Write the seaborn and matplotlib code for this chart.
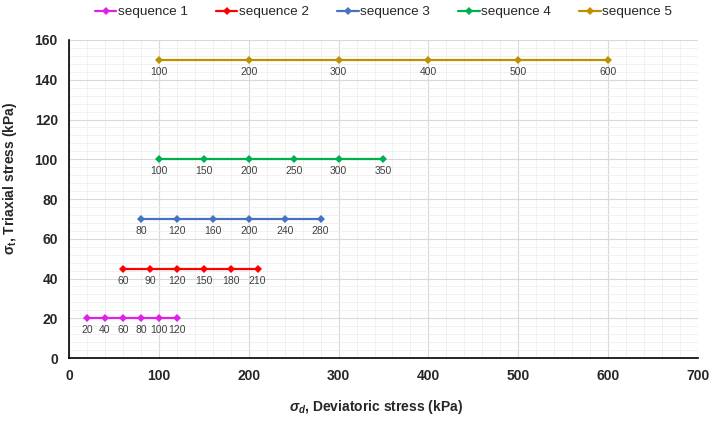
import numpy as np
import pandas as pd
import matplotlib
matplotlib.use("Agg")
import matplotlib.pyplot as plt
from matplotlib.ticker import MultipleLocator
import seaborn as sns

# Данные: девиаторное напряжение по последовательностям
seq_names = ["sequence 1", "sequence 2", "sequence 3", "sequence 4", "sequence 5"]
sigma_t = [20, 45, 70, 100, 150]
seq1_d = [20, 40, 60, 80, 100, 120]
seq2_d = [60, 90, 120, 150, 180, 210]
seq3_d = [80, 120, 160, 200, 240, 280]
seq4_d = [100, 150, 200, 250, 300, 350]
seq5_d = [100, 200, 300, 400, 500, 600]
seq_colors = ["#E020E8", "#FF0000", "#4472C4", "#00B050", "#BF9000"]
all_d = [seq1_d, seq2_d, seq3_d, seq4_d, seq5_d]

rows = []
for name, t, ds in zip(seq_names, sigma_t, all_d):
    for d in ds:
        rows.append({"seq": name, "sigma_d": d, "sigma_t": t})
df = pd.DataFrame(rows)

sns.set_style("white")
plt.rcParams['font.family'] = ['Liberation Sans', 'DejaVu Sans']
plt.rcParams['mathtext.fontset'] = 'custom'
plt.rcParams['mathtext.rm'] = 'Liberation Sans:bold'
plt.rcParams['mathtext.it'] = 'Liberation Sans:italic:bold'
plt.rcParams['mathtext.bf'] = 'Liberation Sans:bold'

fig = plt.figure(figsize=(7.14, 4.21), dpi=100)
ax = fig.add_axes([0.0966, 0.1496, 0.881, 0.7554])

sns.lineplot(data=df, x="sigma_d", y="sigma_t", hue="seq", palette=seq_colors,
             marker="D", markersize=4.5, markeredgewidth=0, lw=1.6, ax=ax, zorder=3)

# Подписи значений под точками
for t, ds in zip(sigma_t, all_d):
    for d in ds:
        ax.annotate(f"{d}", (d, t), textcoords="offset points", xytext=(0, -5),
                    ha="center", va="top", fontsize=7.5, color="#404040")

ax.set_xlim(0, 700)
ax.set_ylim(0, 160)
ax.xaxis.set_major_locator(MultipleLocator(100))
ax.xaxis.set_minor_locator(MultipleLocator(20))
ax.yaxis.set_major_locator(MultipleLocator(20))
ax.yaxis.set_minor_locator(MultipleLocator(4))
ax.grid(which="major", color="#D9D9D9", lw=0.8, zorder=0)
ax.grid(which="minor", color="#EFEFEF", lw=0.6, zorder=0)
ax.set_axisbelow(True)

for s in ["top", "right"]:
    ax.spines[s].set_visible(False)
for s in ["left", "bottom"]:
    ax.spines[s].set_color("black")
    ax.spines[s].set_linewidth(1.2)

ax.tick_params(which="both", length=0, labelsize=10, pad=8)
for lab in ax.get_xticklabels() + ax.get_yticklabels():
    lab.set_fontweight("bold")

ax.set_xlabel(r"$\sigma_d$, Deviatoric stress (kPa)", fontsize=10, fontweight="bold")
ax.set_ylabel(r"$\mathbf{\sigma_t}$, Triaxial stress (kPa)", fontsize=10, fontweight="bold")
ax.xaxis.set_label_coords(0.488, -0.126)
ax.yaxis.set_label_coords(-0.080, 0.566)

handles, labels = ax.get_legend_handles_labels()
ax.legend(handles, labels, loc="center", bbox_to_anchor=(0.5, 1.088), ncol=5,
          frameon=False, fontsize=9.7, handlelength=1.6, handletextpad=0.1, columnspacing=2.1)

fig.savefig("out.png", dpi=100)
